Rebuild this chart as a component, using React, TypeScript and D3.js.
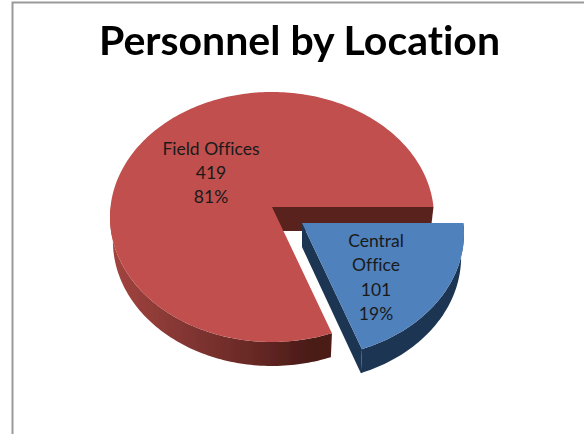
import React from "react";
import * as d3 from "d3";

const title = "Personnel by Location";
const categories = ["Central Office", "Field Offices"];
const values = [101, 419];
const labelLines = [["Central", "Office"], ["Field Offices"]];
const topColors = ["#4f81bd", "#c0504d"];

const width = 584;
const height = 434;
const apex = { x: 272, y: 207 };
const radiusX = 161.5;
const radiusY = 124.2;
const tilt = 0.08; // perspective, near edge looks bigger than far edge
const depth = 24;
const depthScale = 0.982;
const explode = [{ x: 30, y: 16 }, { x: 0, y: 0 }];
const labelPos = [{ x: 376, y: 243 }, { x: 211, y: 150.5 }];

const pie = d3
  .pie<number>()
  .sort(null)
  .startAngle(Math.PI / 2)
  .endAngle(Math.PI / 2 + 2 * Math.PI);
const slices = pie(values);
const total = d3.sum(values);

// angle on the disc -> screen position, drop = how far down the wall
function project(angle: number, drop = 0): [number, number] {
  const u = Math.sin(angle);
  const v = Math.cos(angle);
  const w = 1 + tilt * v;
  const s = drop ? depthScale : 1;
  return [(radiusX * s * u) / w, (-radiusY * v) / w + drop];
}

function arcPoints(a0: number, a1: number, drop = 0) {
  const n = Math.ceil(Math.abs(a1 - a0) / 0.02);
  return d3.range(n + 1).map((i) => project(a0 + ((a1 - a0) * i) / n, drop));
}

const line = d3.line().curve(d3.curveLinear);

function topPath(a0: number, a1: number) {
  return line([[0, 0], ...arcPoints(a0, a1)]) + "Z";
}

// outer wall, only the part of the rim facing us
function wallPath(a0: number, a1: number) {
  return line([...arcPoints(a0, a1), ...arcPoints(a1, a0, depth)]) + "Z";
}

export default function App() {
  const blue = slices[0];
  const red = slices[1];
  const redFront = Math.PI * 1.5;
  const rightEdge = project(blue.startAngle);
  const rightEdgeLow = project(blue.startAngle, depth);
  const tip = project(blue.endAngle);
  const tipLow = project(blue.endAngle, depth);
  const backWall = line([[0, 0], rightEdge, rightEdgeLow, [0, depth]]) + "Z";
  const blueLeftWall = line([[0, 0], [0, depth], tipLow, tip]) + "Z";
  const blueRightWall = wallPath(blue.startAngle, blue.endAngle);

  return (
    <svg
      width={width}
      height={height}
      style={{ position: "absolute", left: 0, top: 0, background: "#fff", fontVariantLigatures: "none" }}
      fontFamily="Lato, 'Open Sans', sans-serif"
    >
      <defs>
        <linearGradient id="redSide" gradientUnits="userSpaceOnUse" x1={-162} x2={162} y1={0} y2={0}>
          <stop offset="0" stopColor="#a4443f" />
          <stop offset="0.2" stopColor="#873835" />
          <stop offset="0.45" stopColor="#662824" />
          <stop offset="0.62" stopColor="#4a1a18" />
          <stop offset="0.8" stopColor="#4f1c19" />
          <stop offset="1" stopColor="#5c221f" />
        </linearGradient>
        <filter id="soft" x="-5%" y="-5%" width="110%" height="110%">
          <feGaussianBlur stdDeviation="0.45" />
        </filter>
      </defs>

      <path d="M12.5,434V2.5H584" fill="none" stroke="#9a9a9a" strokeWidth={2} />

      <text
        x={299.5}
        y={55}
        textAnchor="middle"
        fontSize={41}
        fontWeight={700}
        fill="#000"
        filter="url(#soft)"
      >
        {title}
      </text>

      <g filter="url(#soft)">
        <g transform={`translate(${apex.x + explode[1].x},${apex.y + explode[1].y})`}>
          <path d={backWall} fill="#5a221f" />
          <path d={wallPath(red.startAngle, redFront)} fill="url(#redSide)" />
          <path d={topPath(red.startAngle, red.endAngle)} fill={topColors[1]} />
        </g>
        <g transform={`translate(${apex.x + explode[0].x},${apex.y + explode[0].y})`}>
          <path d={blueRightWall} fill="#1f3552" />
          <path d={blueLeftWall} fill="#1f3552" />
          <path d={topPath(blue.startAngle, blue.endAngle)} fill={topColors[0]} />
        </g>
      </g>

      {categories.map((name, i) => {
        const lines = [
          ...labelLines[i],
          String(values[i]),
          `${Math.round((values[i] / total) * 100)}%`,
        ];
        return (
          <text
            key={name}
            x={labelPos[i].x}
            y={labelPos[i].y}
            textAnchor="middle"
            fontSize={17.5}
            fill="#1a1a1a"
            dominantBaseline="middle"
          >
            {lines.map((t, j) => (
              <tspan key={j} x={labelPos[i].x} dy={j === 0 ? 0 : 24.4}>
                {t}
              </tspan>
            ))}
          </text>
        );
      })}
    </svg>
  );
}
